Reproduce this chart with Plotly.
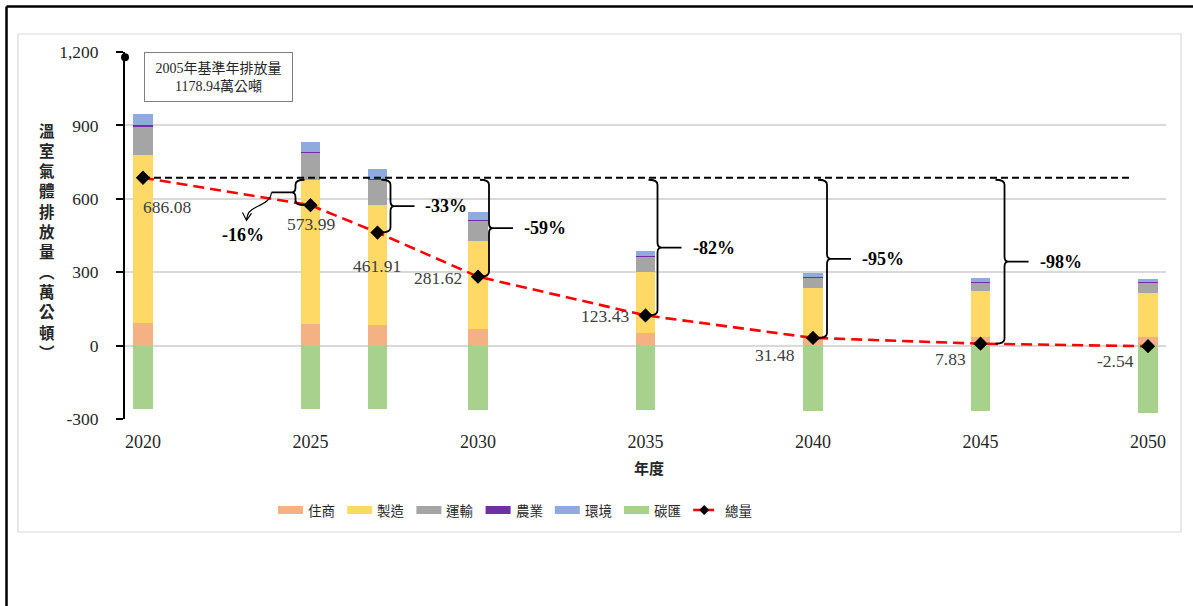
import plotly.graph_objects as go

# ---- data -------------------------------------------------------------
years = [2020, 2025, 2027, 2030, 2035, 2040, 2045, 2050]
tick_years = [2020, 2025, 2030, 2035, 2040, 2045, 2050]
y_ticks = [-300, 0, 300, 600, 900, 1200]
y_tick_text = ["-300", "0", "300", "600", "900", "1,200"]

residential = [92, 89, 83, 69, 52, 34, 34, 34]            # 住商
manufacturing = [688, 589, 492, 357, 249, 202, 188, 181]  # 製造
transport = [114, 110, 102, 85, 62, 41, 37, 41]           # 運輸
agriculture = [6, 5, 3, 4, 3, 2, 2, 2]                    # 農業
environment = [45, 41, 42, 30, 22, 18, 16, 16]            # 環境
carbon_sink = [-258.92, -260.01, -260.09, -263.38, -264.57, -265.52, -269.17, -276.54]  # 碳匯
totals = [686.08, 573.99, 461.91, 281.62, 123.43, 31.48, 7.83, -2.54]  # 總量

base_year_value = 1178.94
base_note = "2005年基準年排放量<br>1178.94萬公噸"

# reduction vs 2020 shown beside each year's brace
reduction_years = [2025, 2027, 2030, 2035, 2040, 2045]
reduction_labels = ["-16%", "-33%", "-59%", "-82%", "-95%", "-98%"]

series_names = ["住商", "製造", "運輸", "農業", "環境", "碳匯"]
series_values = [residential, manufacturing, transport, agriculture, environment, carbon_sink]
series_colors = ["#F4B183", "#FFD966", "#A5A5A5", "#7030A0", "#8FAADC", "#A9D18E"]

# ---- layout geometry ----------------------------------------------------
W, H = 1193, 606
ML, MR, MT, MB = 125, 27, 52, 187
PW, PH = W - ML - MR, H - MT - MB
Y_MIN, Y_MAX = -300, 1200
X_MIN, X_MAX = 2019.463, 2050.537
Y_PER_PX = (Y_MAX - Y_MIN) / PH

SERIF = "Liberation Serif, Noto Sans CJK TC, serif"
TEXT = "#262626"


def px_x(px):
    return (px - ML) / PW


def px_y(py):
    return (H - MB - py) / PH


fig = go.Figure()

for name, vals, color in zip(series_names, series_values, series_colors):
    fig.add_trace(go.Bar(
        x=years, y=vals, name=name, width=0.575,
        marker=dict(color=color, line=dict(width=0)),
        showlegend=False, hoverinfo="x+y+name",
    ))

fig.add_trace(go.Scatter(
    x=years, y=totals, name="總量", mode="lines+markers",
    line=dict(color="#FF0000", width=2.6, dash="11px,6px"),
    marker=dict(symbol="diamond", size=11, color="black"),
    showlegend=False,
))

# 2005 base-year point sitting on the value axis
fig.add_trace(go.Scatter(
    x=[X_MIN], y=[base_year_value], mode="markers",
    marker=dict(symbol="circle", size=8, color="black"),
    cliponaxis=False, showlegend=False, hoverinfo="y",
))

shapes = []
annotations = []

# reference line at the 2020 total
ref = totals[0]
shapes.append(dict(
    type="line", xref="x", yref="y", x0=years[0], x1=years[-1] - 0.45, y0=ref, y1=ref,
    line=dict(color="black", width=2.2, dash="7px,4px"), layer="above",
))

# value labels beside each total marker: (xanchor, xshift, yshift)
label_pos = [
    ("center", 24, -29), ("center", 1, -19), ("center", 0, -33), ("right", -14, -1),
    ("right", -15, -1), ("right", -16, -17), ("right", -13, -15), ("right", -12, -15),
]
for yr, tot, (xa, xs, ys) in zip(years, totals, label_pos):
    annotations.append(dict(
        x=yr, y=tot, xref="x", yref="y", text=f"{tot:.2f}", showarrow=False,
        xanchor=xa, yanchor="middle", xshift=xs, yshift=ys,
        font=dict(family=SERIF, size=17.5, color="#404040"),
    ))

# braces linking the reference line with each later total
total_of = dict(zip(years, totals))
brace_offsets = {2025: -15, 2027: 13, 2030: 11, 2035: 12, 2040: 14, 2045: 24}
ry = 5 * Y_PER_PX
for yr, lab in zip(reduction_years, reduction_labels):
    yt = ref - 2 * Y_PER_PX
    yb = total_of[yr]
    ym = (yt + yb) / 2
    xv = brace_offsets[yr]
    s = 1 if xv > 0 else -1          # +1: opens left, -1: opens right
    xe = xv - s * 9
    tip = xv + s * 4
    stem = xv + s * 24
    path = (
        f"M {xe},{yt:.2f} Q {xv},{yt:.2f} {xv},{yt - ry:.2f} "
        f"L {xv},{ym + ry:.2f} Q {xv},{ym:.2f} {tip},{ym:.2f} "
        f"Q {xv},{ym:.2f} {xv},{ym - ry:.2f} "
        f"L {xv},{yb + ry:.2f} Q {xv},{yb:.2f} {xe},{yb:.2f} "
        f"M {tip},{ym:.2f} L {stem},{ym:.2f}"
    )
    shapes.append(dict(
        type="path", xref="x", yref="y", xsizemode="pixel", xanchor=yr,
        path=path, line=dict(color="black", width=1.8), layer="above",
    ))
    if s > 0:
        annotations.append(dict(
            x=yr, y=ym, xref="x", yref="y", text=f"<b>{lab}</b>", showarrow=False,
            xanchor="left", yanchor="middle", xshift=stem + 9,
            font=dict(family=SERIF, size=18, color="black"),
        ))
    else:
        # curled arrow from the stem end down to the label
        def yy(p):
            return f"{ym - p * Y_PER_PX:.2f}"
        arrow = (
            f"M {stem},{yy(0)} C {stem - 1},{yy(9)} {stem - 10},{yy(12)} {stem - 16},{yy(15)} "
            f"S {stem - 24},{yy(20)} {stem - 25},{yy(28)} "
            f"M {stem - 29},{yy(20)} L {stem - 25},{yy(28)} L {stem - 20},{yy(21)}"
        )
        shapes.append(dict(
            type="path", xref="x", yref="y", xsizemode="pixel", xanchor=yr,
            path=arrow, line=dict(color="black", width=1.2), layer="above",
        ))
        annotations.append(dict(
            x=yr, y=ym, xref="x", yref="y", text=f"<b>{lab}</b>", showarrow=False,
            xanchor="center", yanchor="middle", xshift=stem - 28, yshift=-43,
            font=dict(family=SERIF, size=18, color="black"),
        ))

# base-year note box
annotations.append(dict(
    x=px_x(218), y=px_y(77), xref="paper", yref="paper", text=base_note,
    showarrow=False, xanchor="center", yanchor="middle",
    width=145, height=46, bgcolor="white", bordercolor="#7F7F7F", borderwidth=1,
    font=dict(family=SERIF, size=14, color=TEXT),
))

# vertical axis title
annotations.append(dict(
    x=px_x(47), y=px_y(241), xref="paper", yref="paper",
    text="<b>" + "<br>".join(["溫", "室", "氣", "體", "排", "放", "量", "︵", "萬", "公", "頓", "︶"]) + "</b>",
    showarrow=False, xanchor="center", yanchor="middle",
    font=dict(family="Noto Sans CJK TC", size=15.5, color=TEXT),
))

# horizontal axis title
annotations.append(dict(
    x=px_x(649), y=px_y(467), xref="paper", yref="paper", text="<b>年度</b>",
    showarrow=False, xanchor="center", yanchor="middle",
    font=dict(family="Noto Sans CJK TC", size=15, color=TEXT),
))

# legend
legend_x0, legend_step, legend_y = 278, 69.2, 510
for i, (name, color) in enumerate(zip(series_names, series_colors)):
    x0 = legend_x0 + i * legend_step
    shapes.append(dict(
        type="rect", xref="paper", yref="paper",
        x0=px_x(x0), x1=px_x(x0 + 25), y0=px_y(legend_y + 4), y1=px_y(legend_y - 4),
        fillcolor=color, line=dict(width=0),
    ))
    annotations.append(dict(
        x=px_x(x0 + 28), y=px_y(legend_y), xref="paper", yref="paper", text=name,
        showarrow=False, xanchor="left", yanchor="middle",
        font=dict(family="Noto Sans CJK TC", size=13.5, color=TEXT),
    ))
x0 = legend_x0 + 6 * legend_step
shapes.append(dict(
    type="line", xref="paper", yref="paper",
    x0=px_x(x0), x1=px_x(x0 + 21), y0=px_y(legend_y), y1=px_y(legend_y),
    line=dict(color="#FF0000", width=2.6),
))
shapes.append(dict(
    type="path", xref="paper", yref="paper", xsizemode="pixel", ysizemode="pixel",
    xanchor=px_x(x0 + 11), yanchor=px_y(legend_y),
    path="M -5,0 L 0,5 L 5,0 L 0,-5 Z", fillcolor="black", line=dict(width=0),
))
annotations.append(dict(
    x=px_x(x0 + 30), y=px_y(legend_y), xref="paper", yref="paper", text="總量",
    showarrow=False, xanchor="left", yanchor="middle",
    font=dict(family="Noto Sans CJK TC", size=13.5, color=TEXT),
))

# chart frames
shapes.append(dict(
    type="rect", xref="paper", yref="paper",
    x0=px_x(18), x1=px_x(1181), y0=px_y(532), y1=px_y(34),
    line=dict(color="#D9D9D9", width=1.2), layer="below",
))
shapes.append(dict(
    type="line", xref="paper", yref="paper",
    x0=px_x(6.5), x1=px_x(1193), y0=px_y(6.5), y1=px_y(6.5),
    line=dict(color="black", width=2.5),
))
shapes.append(dict(
    type="line", xref="paper", yref="paper",
    x0=px_x(6.5), x1=px_x(6.5), y0=px_y(6.5), y1=px_y(606),
    line=dict(color="black", width=2.5),
))

fig.update_layout(
    width=W, height=H,
    margin=dict(l=ML, r=MR, t=MT, b=MB, pad=0),
    paper_bgcolor="white", plot_bgcolor="white",
    barmode="relative", bargap=0,
    showlegend=False,
    shapes=shapes, annotations=annotations,
    font=dict(family=SERIF, color=TEXT),
    xaxis=dict(
        range=[X_MIN, X_MAX], tickvals=tick_years, ticktext=[str(y) for y in tick_years],
        showgrid=False, showline=False, zeroline=False, ticks="",
        ticklabelstandoff=10, tickfont=dict(family=SERIF, size=18, color=TEXT),
    ),
    yaxis=dict(
        range=[Y_MIN, Y_MAX], tickvals=y_ticks, ticktext=y_tick_text,
        showgrid=True, gridcolor="#D9D9D9", gridwidth=1.5, zeroline=False,
        showline=True, linecolor="black", linewidth=2,
        ticks="outside", ticklen=7, tickwidth=2, tickcolor="black",
        ticklabelstandoff=14, tickfont=dict(family=SERIF, size=17.5, color=TEXT),
    ),
)

fig.write_html("out.html")
